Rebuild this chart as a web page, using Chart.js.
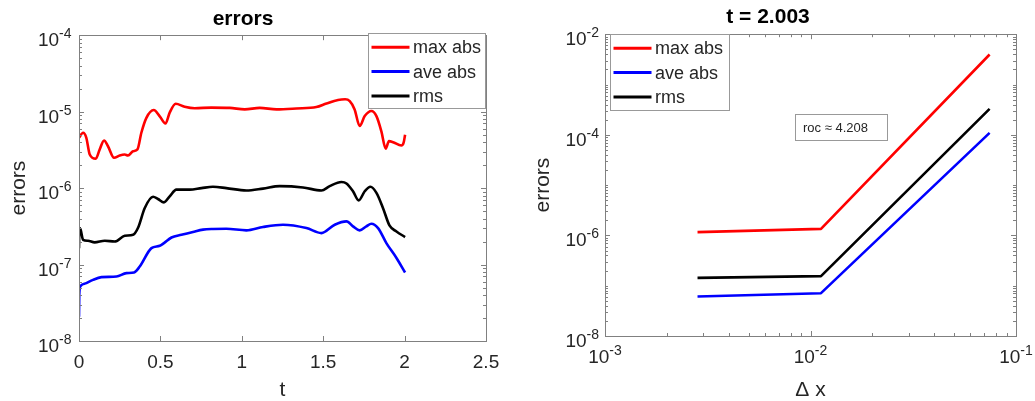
<!DOCTYPE html>
<html>
<head>
<meta charset="utf-8">
<script src="https://cdn.jsdelivr.net/npm/chart.js@4.4.1/dist/chart.umd.min.js"></script>
<style>
  html, body { margin: 0; padding: 0; background: #fff; overflow: hidden; }
  body { width: 1035px; height: 401px; position: relative; }
  .panel { position: absolute; top: 0; height: 401px; }
  #leftPanel { left: 0; width: 565px; }
  #rightPanel { left: 520px; width: 581px; }
</style>
</head>
<body>
<div class="panel" id="leftPanel"><canvas id="errorsChart"></canvas></div>
<div class="panel" id="rightPanel"><canvas id="rocChart"></canvas></div>
<script>
// ---- left panel: errors over time
const maxAbsT = [0, 0.025, 0.045, 0.066, 0.103, 0.127, 0.154, 0.178, 0.215, 0.25, 0.281, 0.301, 0.332, 0.359, 0.383,
  0.414, 0.459, 0.496, 0.531, 0.557, 0.594, 0.649, 0.711, 0.813, 0.926, 1.018, 1.11, 1.213, 1.335, 1.458,
  1.52, 1.591, 1.635, 1.663, 1.693, 1.724, 1.755, 1.796, 1.827, 1.857, 1.884, 1.904, 1.929, 1.98, 1.994, 2.003];
const maxAbsErr = [4.55e-6, 5.3e-6, 4.55e-6, 2.75e-6, 2.42e-6, 3.2e-6, 4.2e-6, 3.53e-6, 2.49e-6, 2.67e-6, 2.75e-6, 2.67e-6, 3.04e-6, 3.2e-6, 5.3e-6,
  8.3e-6, 1.05e-5, 8.7e-6, 7.0e-6, 9.7e-6, 1.27e-5, 1.16e-5, 1.11e-5, 1.13e-5, 1.12e-5, 1.07e-5, 1.12e-5, 1.07e-5, 1.10e-5, 1.15e-5,
  1.28e-5, 1.42e-5, 1.45e-5, 1.37e-5, 1.07e-5, 6.5e-6, 8.75e-6, 1.02e-5, 8.75e-6, 5.56e-6, 3.27e-6, 4.11e-6, 3.99e-6, 3.6e-6, 3.92e-6, 5.0e-6];

const aveAbsT = [0, 0.002, 0.010, 0.045, 0.086, 0.138, 0.23, 0.291, 0.338, 0.373, 0.445, 0.496, 0.522, 0.568, 0.629,
  0.70, 0.762, 0.823, 0.905, 1.028, 1.13, 1.253, 1.397, 1.489, 1.571, 1.643, 1.683, 1.724, 1.765, 1.796,
  1.837, 1.888, 1.95, 2.003];
const aveAbsErr = [2.08e-8, 4.22e-8, 5.26e-8, 5.71e-8, 6.31e-8, 6.84e-8, 6.97e-8, 7.72e-8, 7.87e-8, 9.42e-8, 1.64e-7, 1.76e-7, 1.91e-7, 2.26e-7, 2.45e-7,
  2.67e-7, 2.86e-7, 2.92e-7, 2.94e-7, 2.8e-7, 3.1e-7, 3.32e-7, 3.0e-7, 2.58e-7, 3.32e-7, 3.67e-7, 3.16e-7, 2.8e-7, 3.16e-7, 3.42e-7,
  3.0e-7, 1.91e-7, 1.22e-7, 7.87e-8];

const rmsT = [0, 0.002, 0.010, 0.025, 0.055, 0.096, 0.158, 0.219, 0.281, 0.332, 0.362, 0.404, 0.455, 0.485, 0.522,
  0.557, 0.598, 0.68, 0.752, 0.823, 0.905, 1.028, 1.13, 1.233, 1.376, 1.489, 1.54, 1.612, 1.643, 1.683,
  1.718, 1.755, 1.79, 1.827, 1.867, 1.908, 1.95, 2.003];
const rmsErr = [1.64e-7, 3.0e-7, 2.86e-7, 2.11e-7, 2.05e-7, 1.95e-7, 2.05e-7, 2.0e-7, 2.38e-7, 2.45e-7, 3.0e-7, 5.5e-7, 7.7e-7, 7.2e-7, 6.5e-7,
  7.8e-7, 9.55e-7, 9.55e-7, 1.0e-6, 1.04e-6, 1.0e-6, 9.3e-7, 9.85e-7, 1.06e-6, 1.02e-6, 9.3e-7, 1.06e-6, 1.2e-6, 1.15e-6, 9.1e-7,
  6.9e-7, 9.1e-7, 1.04e-6, 8.65e-7, 5.5e-7, 3.22e-7, 2.71e-7, 2.29e-7];

// ---- right panel: convergence at t = 2.003
const dxValues = [0.00282, 0.01125, 0.0744];
const maxAbsRoc = [1.16e-6, 1.35e-6, 3.95e-3];
const aveAbsRoc = [6.1e-8, 7.1e-8, 1.09e-4];
const rmsRoc = [1.43e-7, 1.55e-7, 3.27e-4];
const rocValue = 4.208;

const seriesLabels = ["max abs", "ave abs", "rms"];
const seriesColors = ["#ff0000", "#0000ff", "#000000"];

const FONT = '"Liberation Sans", Arial, sans-serif';
const TEXT = "#262626";
const BOX = "#808080";

function series(i, xs, ys, smooth) {
    return {
        label: seriesLabels[i],
        data: xs.map((x, k) => ({ x: x, y: ys[k] })),
        borderColor: seriesColors[i],
        backgroundColor: seriesColors[i],
        borderWidth: 2.6,
        pointRadius: 0,
        fill: false,
        borderJoinStyle: "round",
        cubicInterpolationMode: smooth ? "monotone" : "default",
        tension: 0
    };
}

// tick values for a scale: [value, isMajor]; log decades not on the label step become minor
function tickList(scale, step) {
    const out = [];
    step = step || 1;
    if (scale.type === "logarithmic") {
        const e0 = Math.round(Math.log10(scale.min)), e1 = Math.round(Math.log10(scale.max));
        for (let e = e0; e <= e1; e++) {
            out.push([Math.pow(10, e), (e - e0) % step === 0]);
            if (e < e1) for (let k = 2; k <= 9; k++) out.push([k * Math.pow(10, e), false]);
        }
    } else {
        scale.ticks.forEach(t => out.push([t.value, true]));
    }
    return out;
}

function drawPower(ctx, x, y, exp, anchor) {
    const base = "10", sup = String(exp);
    ctx.font = "19px " + FONT;
    const wb = ctx.measureText(base).width;
    ctx.font = "14px " + FONT;
    const ws = ctx.measureText(sup).width;
    const x0 = anchor === "right" ? x - wb - ws : x - (wb + ws) / 2;
    ctx.font = "19px " + FONT;
    ctx.fillText(base, x0, y);
    ctx.font = "14px " + FONT;
    ctx.fillText(sup, x0 + wb, y - 8);
}

// box, inward ticks, power-of-ten labels, legend and note like MATLAB
const matlabAxes = {
    id: "matlabAxes",
    afterDraw(chart, args, opts) {
        const ctx = chart.ctx;
        const a = chart.chartArea;
        const xs = chart.scales.x, ys = chart.scales.y;
        const yStep = opts.yStep || 1;
        ctx.save();
        ctx.strokeStyle = BOX;
        ctx.lineWidth = 1;
        ctx.strokeRect(Math.round(a.left) + 0.5, Math.round(a.top) + 0.5,
            Math.round(a.right - a.left), Math.round(a.bottom - a.top));

        ctx.beginPath();
        tickList(xs).forEach(([v, major]) => {
            const px = Math.round(xs.getPixelForValue(v)) + 0.5;
            const len = major ? 5 : 3;
            ctx.moveTo(px, a.bottom); ctx.lineTo(px, a.bottom - len);
            ctx.moveTo(px, a.top); ctx.lineTo(px, a.top + len);
        });
        tickList(ys, yStep).forEach(([v, major]) => {
            const py = Math.round(ys.getPixelForValue(v)) + 0.5;
            const len = major ? 5 : 3;
            ctx.moveTo(a.left, py); ctx.lineTo(a.left + len, py);
            ctx.moveTo(a.right, py); ctx.lineTo(a.right - len, py);
        });
        ctx.stroke();

        ctx.fillStyle = TEXT;
        ctx.textAlign = "left";
        ctx.textBaseline = "alphabetic";
        if (ys.type === "logarithmic") {
            tickList(ys, yStep).filter(t => t[1]).forEach(([v]) => {
                const py = ys.getPixelForValue(v);
                drawPower(ctx, a.left - opts.yGap, py + 11, Math.round(Math.log10(v)), "right");
            });
        }
        if (xs.type === "logarithmic") {
            tickList(xs).filter(t => t[1]).forEach(([v]) => {
                const px = xs.getPixelForValue(v);
                drawPower(ctx, px, a.bottom + 27, Math.round(Math.log10(v)), "center");
            });
        }

        const lg = opts.legend;
        ctx.fillStyle = "#fff";
        ctx.fillRect(lg.left, lg.top, lg.width, lg.height);
        ctx.strokeStyle = "#999";
        ctx.lineWidth = 1;
        ctx.strokeRect(lg.left + 0.5, lg.top + 0.5, lg.width, lg.height);
        chart.data.datasets.forEach((ds, i) => {
            const cy = lg.top + 14.3 + i * 24.3;
            ctx.strokeStyle = ds.borderColor;
            ctx.lineWidth = 3;
            ctx.beginPath();
            ctx.moveTo(lg.left + 3.5, cy);
            ctx.lineTo(lg.left + 41.5, cy);
            ctx.stroke();
            ctx.fillStyle = TEXT;
            ctx.font = "18px " + FONT;
            ctx.textBaseline = "middle";
            ctx.fillText(ds.label, lg.left + 45, cy + 1);
        });

        if (opts.note) {
            const n = opts.note;
            ctx.fillStyle = "#fff";
            ctx.fillRect(n.left, n.top, n.width, n.height);
            ctx.strokeStyle = "#999";
            ctx.lineWidth = 1;
            ctx.strokeRect(n.left + 0.5, n.top + 0.5, n.width, n.height);
            ctx.fillStyle = TEXT;
            ctx.font = "13px " + FONT;
            ctx.textBaseline = "middle";
            ctx.fillText(n.text, n.left + 8, n.top + n.height / 2 + 1);
        }
        ctx.restore();
    }
};

function baseOptions(cfg) {
    return {
        responsive: true,
        maintainAspectRatio: false,
        animation: false,
        layout: { padding: { left: 0, right: cfg.padRight, top: 0, bottom: 0 } },
        plugins: {
            legend: { display: false },
            tooltip: { enabled: false },
            title: {
                display: true,
                text: cfg.title,
                color: "#000",
                font: { family: FONT, size: 21, weight: "bold" },
                padding: cfg.titlePad
            },
            matlabAxes: cfg.extras
        },
        scales: {
            x: Object.assign({
                afterFit(s) { s.height = cfg.xHeight; },
                grid: { display: false, drawTicks: false },
                border: { display: false },
                title: { display: true, text: cfg.xTitle, color: TEXT, font: { family: FONT, size: 21, lineHeight: 1 }, padding: 0 }
            }, cfg.x),
            y: {
                type: "logarithmic",
                min: cfg.yMin,
                max: cfg.yMax,
                afterFit(s) { s.width = cfg.yWidth; },
                grid: { display: false, drawTicks: false },
                border: { display: false },
                ticks: { display: false },
                title: { display: true, text: "errors", color: TEXT, font: { family: FONT, size: 21 }, padding: { top: cfg.yTitlePad } }
            }
        }
    };
}

document.addEventListener("DOMContentLoaded", function () {
    new Chart(document.getElementById("errorsChart"), {
        type: "line",
        data: {
            datasets: [
                series(0, maxAbsT, maxAbsErr, true),
                series(1, aveAbsT, aveAbsErr, true),
                series(2, rmsT, rmsErr, true)
            ]
        },
        options: baseOptions({
            title: "errors",
            titlePad: { top: 7, bottom: 3 },
            padRight: 79,
            xHeight: 60,
            yWidth: 79,
            yTitlePad: 7,
            yMin: 1e-8,
            yMax: 1e-4,
            xTitle: "t",
            x: {
                type: "linear",
                min: 0,
                max: 2.5,
                ticks: {
                    stepSize: 0.5, padding: 10, color: TEXT, font: { family: FONT, size: 19 },
                    callback: v => String(Number(v))
                }
            },
            extras: {
                yGap: 7.5,
                legend: { left: 368, top: 33, width: 117, height: 75 }
            }
        }),
        plugins: [matlabAxes]
    });

    new Chart(document.getElementById("rocChart"), {
        type: "line",
        data: {
            datasets: [
                series(0, dxValues, maxAbsRoc, false),
                series(1, dxValues, aveAbsRoc, false),
                series(2, dxValues, rmsRoc, false)
            ]
        },
        options: baseOptions({
            title: "t = 2.003",
            titlePad: { top: 5, bottom: 4 },
            padRight: 85,
            xHeight: 65,
            yWidth: 85,
            yTitlePad: 11,
            yMin: 1e-8,
            yMax: 1e-2,
            xTitle: "\u0394 x",
            x: {
                type: "logarithmic",
                min: 1e-3,
                max: 1e-1,
                ticks: { display: false }
            },
            extras: {
                yGap: 6,
                yStep: 2,
                legend: { left: 90, top: 34, width: 119, height: 76 },
                note: { left: 275, top: 114, width: 92, height: 26, text: "roc \u2248 " + rocValue.toFixed(3) }
            }
        }),
        plugins: [matlabAxes]
    });
});
</script>
</body>
</html>
